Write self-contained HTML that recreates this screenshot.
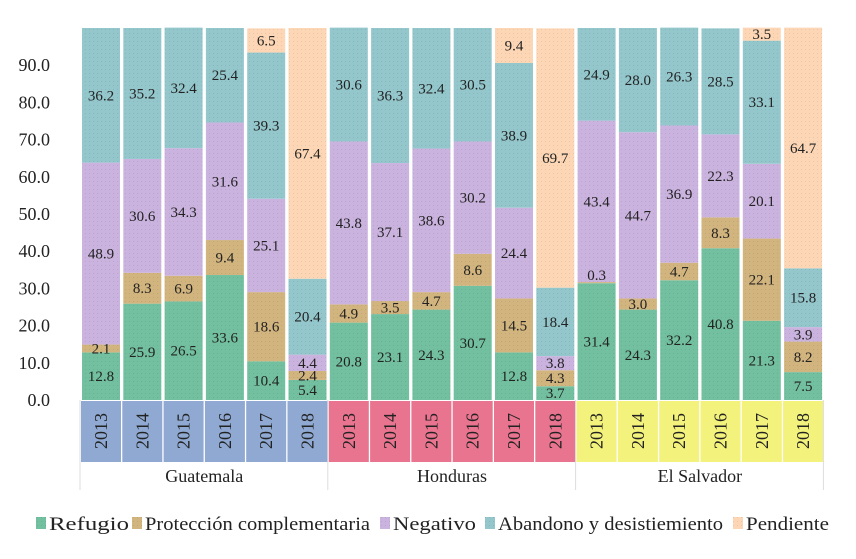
<!DOCTYPE html>
<html><head><meta charset="utf-8"><style>
body{margin:0;background:#fff;}
svg text{font-family:"Liberation Serif",serif;fill:#222;}
</style></head><body>
<svg id="c" width="856" height="554"></svg>
<script>
const years=["2013","2014","2015","2016","2017","2018"];
const countries=["Guatemala","Honduras","El Salvador"];
const refugio=[12.8,25.9,26.5,33.6,10.4,5.4, 20.8,23.1,24.3,30.7,12.8,3.7, 31.4,24.3,32.2,40.8,21.3,7.5];
const proteccion=[2.1,8.3,6.9,9.4,18.6,2.4, 4.9,3.5,4.7,8.6,14.5,4.3, 0.3,3.0,4.7,8.3,22.1,8.2];
const negativo=[48.9,30.6,34.3,31.6,25.1,4.4, 43.8,37.1,38.6,30.2,24.4,3.8, 43.4,44.7,36.9,22.3,20.1,3.9];
const abandono=[36.2,35.2,32.4,25.4,39.3,20.4, 30.6,36.3,32.4,30.5,38.9,18.4, 24.9,28.0,26.3,28.5,33.1,15.8];
const pendiente=[0,0,0,0,6.5,67.4, 0,0,0,0,9.4,69.7, 0,0,0,0,3.5,64.7];
const yTicks=[0,10,20,30,40,50,60,70,80,90];
const seriesNames=["Refugio","Protección complementaria","Negativo","Abandono y desistiemiento","Pendiente"];
const series=[refugio,proteccion,negativo,abandono,pendiente];
const colors=["#72c09f","#d2b47e","#cbb3df","#93c7cc","#fdd7b5"];
const bandColors=["#8fa9d2","#e9748f","#f3f27c"];
const NS="http://www.w3.org/2000/svg";
const svg=document.getElementById('c');
const y0=400,pxPer=3.72,x0=82,slot=41.3,bw=38;
const Y=v=>y0-v*pxPer;
const X=i=>x0+i*slot;
function el(t,a,txt){const e=document.createElementNS(NS,t);for(const k in a)e.setAttribute(k,a[k]);if(txt!==undefined)e.textContent=txt;svg.appendChild(e);return e;}
const defs=el('defs',{});
colors.forEach((c,i)=>{const p=document.createElementNS(NS,'pattern');p.setAttribute('id','p'+i);p.setAttribute('width','4');p.setAttribute('height','4');p.setAttribute('patternUnits','userSpaceOnUse');
const r=document.createElementNS(NS,'rect');r.setAttribute('width','4');r.setAttribute('height','4');r.setAttribute('fill',c);p.appendChild(r);
const d=document.createElementNS(NS,'rect');d.setAttribute('x','1');d.setAttribute('y','1');d.setAttribute('width','1');d.setAttribute('height','1');d.setAttribute('fill','rgba(0,0,0,0.08)');p.appendChild(d);defs.appendChild(p);});
yTicks.forEach(t=>{const e=el('text',{x:50,y:Y(t)+6,'text-anchor':'end','font-size':'18'},t.toFixed(1));

});
const labels=[];
for(let i=0;i<18;i++){
 let acc=0;
 series.forEach((s,k)=>{const v=s[i];if(v<=0)return;
  const r=el('rect',{x:X(i),y:Y(acc+v),width:bw,height:v*pxPer,fill:'url(#p'+k+')'});
  
  
  let ty=Y(acc+v/2)+5; if(v<1) ty=Y(acc+v)-2;
  labels.push([X(i)+bw/2,ty,v.toFixed(1)]);
  acc+=v;});
 const g=Math.floor(i/6);
 const b=el('rect',{x:X(i)-1,y:401,width:bw+2,height:61,fill:bandColors[g]});
 
 
 const yt=el('text',{x:0,y:0,'font-size':'18','text-anchor':'middle',transform:`translate(${X(i)+bw/2+6},431) rotate(-90)`},years[i%6]);
 
 
}
labels.forEach(L=>{const t=el('text',{x:L[0],y:L[1],'text-anchor':'middle','font-size':'15'},L[2]);
 
 });
for(let g=0;g<=3;g++){const l=el('line',{x1:X(g*6)-2,x2:X(g*6)-2,y1:400,y2:490,stroke:'#ddd','stroke-width':1});

}
countries.forEach((c,g)=>{const t=el('text',{x:(X(g*6)+X(g*6+5)+bw)/2,y:482,'text-anchor':'middle','font-size':'18'},c);

});
const lx=[36,132,380,485,733];
const lw=[80,225,83,225,83];
seriesNames.forEach((n,k)=>{const r=el('rect',{x:lx[k],y:517,width:10,height:12,fill:'url(#p'+k+')'});


const t=el('text',{x:lx[k]+13,y:530,'font-size':'19',textLength:lw[k],lengthAdjust:'spacingAndGlyphs'},n);

});
</script>
</body></html>
